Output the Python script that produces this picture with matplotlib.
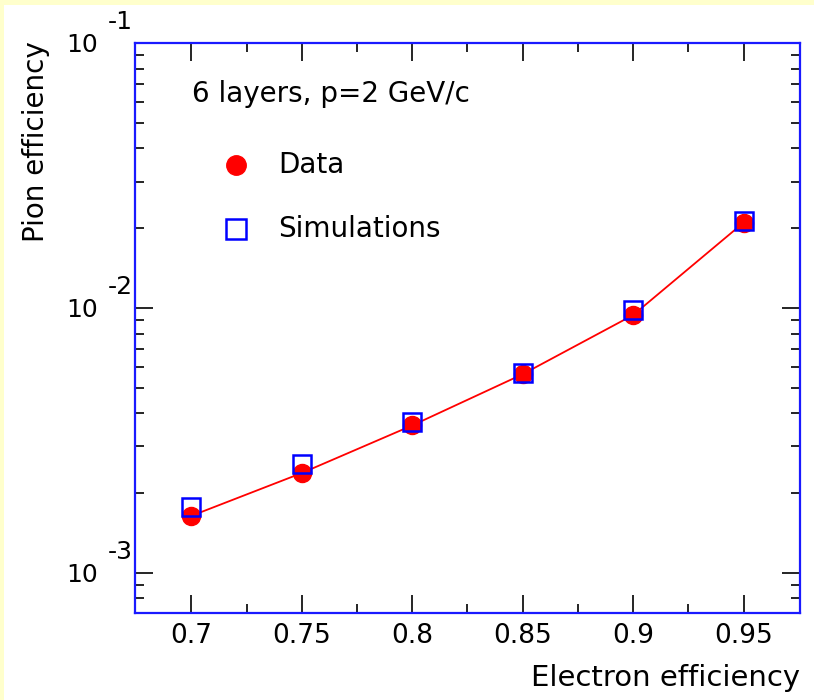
import matplotlib
matplotlib.use("Agg")
import matplotlib.pyplot as plt
from matplotlib.patches import Rectangle
from matplotlib.ticker import LogLocator, NullFormatter, FixedLocator
from matplotlib.transforms import blended_transform_factory, offset_copy

# Pion efficiency vs electron efficiency, 6 layers, p = 2 GeV/c
electron_eff = [0.70, 0.75, 0.80, 0.85, 0.90, 0.95]
pion_eff_data = [1.64e-3, 2.38e-3, 3.60e-3, 5.62e-3, 9.40e-3, 2.10e-2]
pion_eff_sim = [1.77e-3, 2.58e-3, 3.72e-3, 5.70e-3, 9.85e-3, 2.13e-2]
y_decades = [1e-1, 1e-2, 1e-3]
y_exponents = ["-1", "-2", "-3"]
x_ticks = [0.7, 0.75, 0.8, 0.85, 0.9, 0.95]
x_minor = [0.725, 0.775, 0.825, 0.875, 0.925]
x_ticklabels = ["0.7", "0.75", "0.8", "0.85", "0.9", "0.95"]

plt.rcParams["font.family"] = "DejaVu Sans"

W, H = 814, 700
fig = plt.figure(figsize=(W / 100, H / 100), dpi=100, facecolor="white")

# thin yellow frame on the left and top
fig.patches.append(Rectangle((0, 0), 4 / W, 1, transform=fig.transFigure,
                             facecolor="#ffffcc", edgecolor="none"))
fig.patches.append(Rectangle((0, 1 - 5 / H), 1, 5 / H, transform=fig.transFigure,
                             facecolor="#ffffcc", edgecolor="none"))

x0, x1, ytop, ybot = 135, 800, 43, 613
ax = fig.add_axes([x0 / W, 1 - ybot / H, (x1 - x0) / W, (ybot - ytop) / H])

ax.plot(electron_eff, pion_eff_data, color="red", lw=1.3, zorder=2)
ax.plot(electron_eff, pion_eff_data, "o", color="red", ms=13, mec="red", zorder=3)
ax.plot(electron_eff, pion_eff_sim, "s", mfc="none", mec="blue", mew=1.8, ms=13, zorder=4)

ax.set_yscale("log")
ax.set_xlim(0.6745, 0.9755)
ax.set_ylim(7.05e-4, 1e-1)

ax.xaxis.set_major_locator(FixedLocator(x_ticks))
ax.set_xticklabels(x_ticklabels, fontsize=19)
ax.xaxis.set_minor_locator(FixedLocator(x_minor))
ax.yaxis.set_major_locator(FixedLocator(y_decades))
ax.yaxis.set_minor_locator(LogLocator(base=10, subs=range(2, 10)))
ax.yaxis.set_major_formatter(NullFormatter())
ax.yaxis.set_minor_formatter(NullFormatter())

ax.tick_params(which="both", direction="in", top=True, right=True,
               color="black", width=1.2)
ax.tick_params(which="major", length=13)
ax.tick_params(which="minor", length=6.5)
ax.tick_params(axis="x", which="major", pad=7)

for s in ax.spines.values():
    s.set_color("#1a1aff")
    s.set_linewidth(1.6)

# y labels drawn as 10 with the exponent raised to the right
tr = blended_transform_factory(fig.transFigure, ax.transData)
for val, ex in zip(y_decades, y_exponents):
    ax.text(98 / W, val, "10", transform=offset_copy(tr, fig=fig, y=-2, units="dots"),
            ha="right", va="center", fontsize=18, clip_on=False)
    ax.text(133 / W, val, ex, transform=offset_copy(tr, fig=fig, y=21, units="dots"),
            ha="right", va="center", fontsize=18, clip_on=False)

# annotation and hand-placed legend
ax.text((192 - x0) / (x1 - x0), (ybot - 94) / (ybot - ytop), "6 layers, p=2 GeV/c",
        transform=ax.transAxes, ha="left", va="center", fontsize=20)
mx = (236 - x0) / (x1 - x0)
tx = (278 - x0) / (x1 - x0)
yd = (ybot - 165) / (ybot - ytop)
ys = (ybot - 229) / (ybot - ytop)
ax.plot([mx], [yd], "o", color="red", ms=14, transform=ax.transAxes, clip_on=False)
ax.plot([mx], [ys], "s", mfc="none", mec="blue", mew=1.8, ms=14,
        transform=ax.transAxes, clip_on=False)
ax.text(tx, yd, "Data", transform=ax.transAxes, ha="left", va="center", fontsize=20)
ax.text(tx, ys, "Simulations", transform=ax.transAxes, ha="left", va="center", fontsize=20)

fig.text(36 / W, 1 - 142 / H, "Pion efficiency", rotation=90,
         ha="center", va="center", fontsize=20)
fig.text(800 / W, 1 - 678 / H, "Electron efficiency", ha="right", va="center", fontsize=21)

fig.savefig("out.png", dpi=100, facecolor="white")
